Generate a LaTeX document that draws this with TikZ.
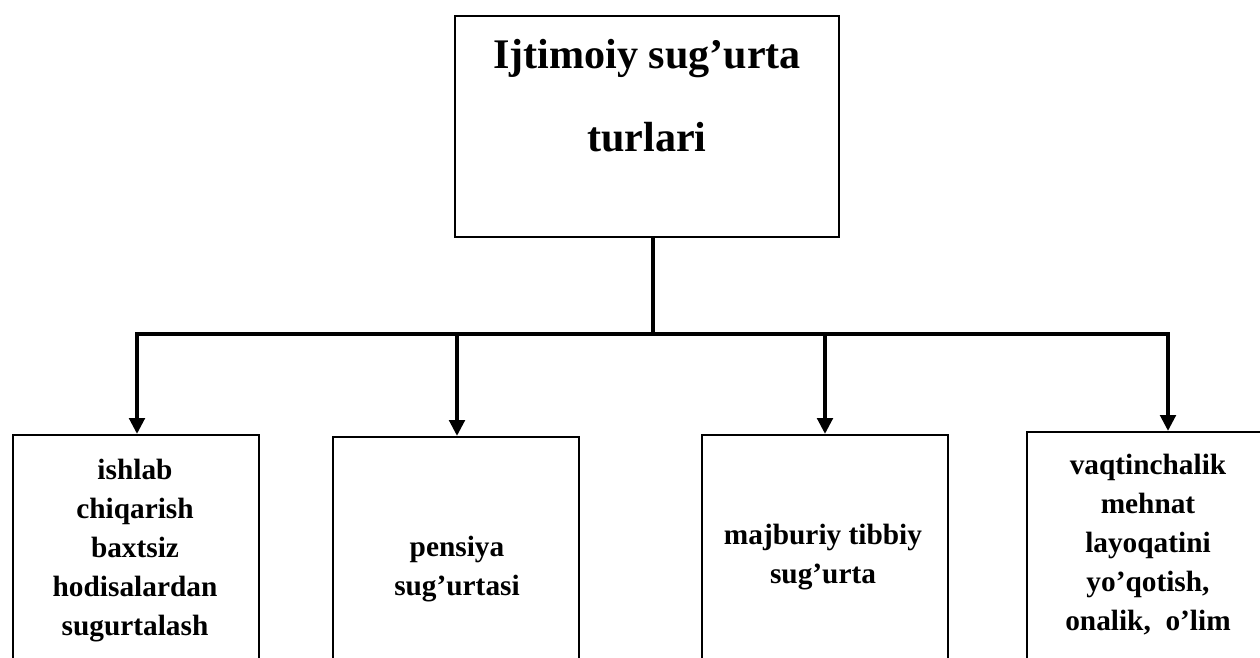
\documentclass[tikz,border=0pt]{standalone}
\usepackage{fontspec}
\setmainfont{Liberation Serif}
\usetikzlibrary{arrows.meta}
\begin{document}
\begin{tikzpicture}[x=0.75pt,y=-0.75pt,
  box/.style={draw, line width=1.3pt, inner sep=0pt},
  bottombox/.style={box, anchor=north west, minimum width=246*0.75pt, minimum height=260*0.75pt},
  conn/.style={line width=3pt},
  arr/.style={line width=3pt, -{Triangle[length=12pt,width=11.5pt]}},
  titletxt/.style={anchor=north, inner sep=0pt, align=center, font=\fontsize{31.6pt}{62pt}\selectfont\bfseries},
  boxtxt/.style={anchor=north, inner sep=0pt, align=center, font=\fontsize{22pt}{29.25pt}\selectfont\bfseries}]
\useasboundingbox (0,0) rectangle (1260,657);
\fill[white] (0,0) rectangle (1260,657);
\clip (0,0) rectangle (1260,657);

% top box
\node[box, minimum width=384*0.75pt, minimum height=221*0.75pt] (top) at (647,126.5) {};
\node[titletxt] (toptext) at (647,39) {Ijtimoiy sug’urta\\turlari};

% bottom boxes
\node[bottombox] (b1) at (12,434) {};
\node[bottombox] (b2) at (332,436) {};
\node[bottombox] (b3) at (701,434) {};
\node[bottombox] (b4) at (1026,431) {};

\node[boxtxt] (t1) at (135,459) {ishlab\\chiqarish\\baxtsiz\\hodisalardan\\sugurtalash};
\node[boxtxt] (t2) at (457,536) {pensiya\\sug’urtasi};
\node[boxtxt] (t3) at (823,524) {majburiy tibbiy\\sug’urta};
\node[boxtxt] (t4) at (1148,454) {vaqtinchalik\\mehnat\\layoqatini\\yo’qotish,\\onalik,~ o’lim};

% connectors
\coordinate (j) at (653,334);
\coordinate (c1) at (137,334);
\coordinate (c2) at (457,334);
\coordinate (c3) at (825,334);
\coordinate (c4) at (1168,334);
\draw[conn] (top.south -| j) -- (j);
\draw[conn, line cap=rect] (c1) -- (c4);
\draw[arr] (c1) -- (c1 |- b1.north);
\draw[arr] (c2) -- (c2 |- b2.north);
\draw[arr] (c3) -- (c3 |- b3.north);
\draw[arr] (c4) -- (c4 |- b4.north);
\end{tikzpicture}
\end{document}
